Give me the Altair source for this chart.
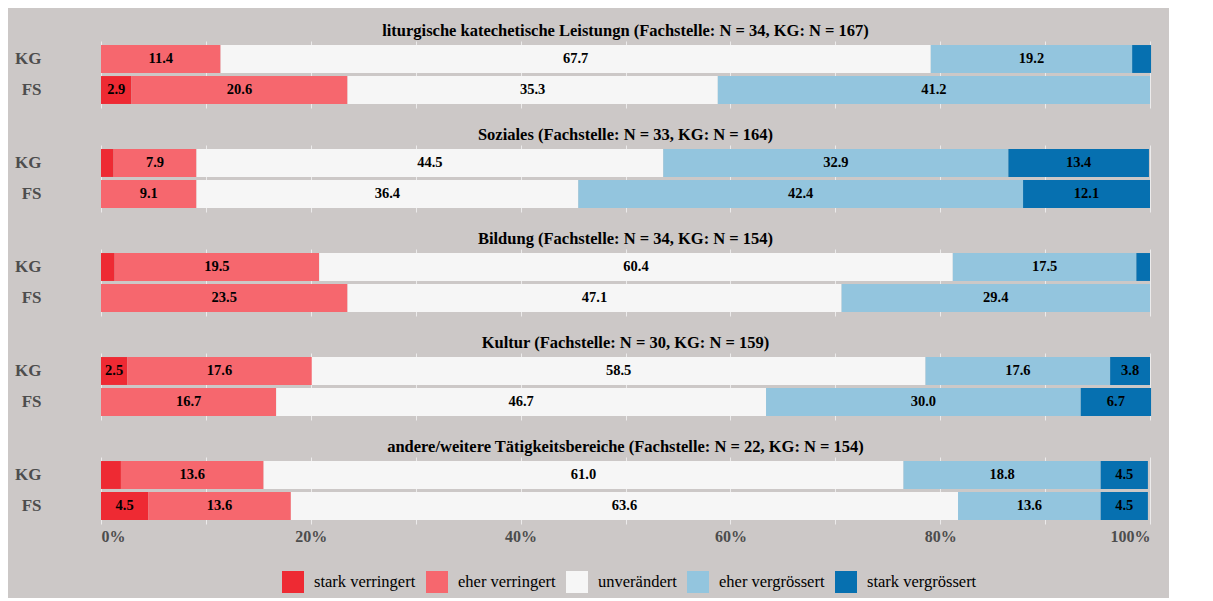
import altair as alt
import pandas as pd

areas = [
    "liturgische katechetische Leistungn (Fachstelle: N = 34, KG: N = 167)",
    "Soziales (Fachstelle: N = 33, KG: N = 164)",
    "Bildung (Fachstelle: N = 34, KG: N = 154)",
    "Kultur (Fachstelle: N = 30, KG: N = 159)",
    "andere/weitere Tätigkeitsbereiche (Fachstelle: N = 22, KG: N = 154)",
]
categories = ["stark verringert", "eher verringert", "unverändert",
              "eher vergrössert", "stark vergrössert"]
colors = ["#ee2a33", "#f6676e", "#f6f6f6", "#93c5de", "#0670b0"]
units = ["KG", "FS"]

kg_values = [
    [0.0, 11.4, 67.7, 19.2, 1.8],
    [1.2, 7.9, 44.5, 32.9, 13.4],
    [1.3, 19.5, 60.4, 17.5, 1.3],
    [2.5, 17.6, 58.5, 17.6, 3.8],
    [1.9, 13.6, 61.0, 18.8, 4.5],
]
fs_values = [
    [2.9, 20.6, 35.3, 41.2, 0.0],
    [0.0, 9.1, 36.4, 42.4, 12.1],
    [0.0, 23.5, 47.1, 29.4, 0.0],
    [0.0, 16.7, 46.7, 30.0, 6.7],
    [4.5, 13.6, 63.6, 13.6, 4.5],
]
x_ticks = [0, 10, 20, 30, 40, 50, 60, 70, 80, 90, 100]

rows = []
for a, kv, fv in zip(areas, kg_values, fs_values):
    for unit, vals in (("KG", kv), ("FS", fv)):
        for i, (c, v) in enumerate(zip(categories, vals)):
            rows.append({"area": a, "unit": unit, "cat": c, "ord": i, "value": v})
df = pd.DataFrame(rows)

SERIF = "Liberation Serif"
GREY = "#4d4d4d"

base = alt.Chart().transform_stack(
    stack="value", groupby=["area", "unit"], as_=["x0", "x1"],
    sort=[alt.SortField("ord", order="ascending")]
).transform_calculate(mid="(datum.x0 + datum.x1) / 2")

y_enc = alt.Y("unit:N", sort=units, title=None,
              scale=alt.Scale(paddingInner=0.1, paddingOuter=0.13),
              axis=alt.Axis(labelFont=SERIF, labelFontWeight="bold", labelFontSize=17,
                            labelColor=GREY, ticks=False, domain=False, labelPadding=60))
x_scale = alt.Scale(domain=[0, 100], nice=False)
x_axis = alt.Axis(values=x_ticks, labelExpr="datum.value % 20 == 0 ? datum.value + '%' : ''",
                  labelFont=SERIF, labelFontWeight="bold", labelFontSize=16, labelColor=GREY,
                  ticks=False, domain=False, grid=True, gridColor="#ecebeb", gridWidth=1,
                  labelPadding=4)

bars = base.mark_bar(strokeWidth=0).encode(
    x=alt.X("x0:Q", scale=x_scale, axis=x_axis, title=None),
    x2="x1:Q",
    y=y_enc,
    color=alt.Color("cat:N", sort=categories,
                    scale=alt.Scale(domain=categories, range=colors),
                    legend=alt.Legend(orient="none", direction="horizontal", title=None,
                                      legendX=181, legendY=530,
                                      symbolType="square", symbolSize=484, symbolStrokeWidth=0,
                                      labelFont=SERIF, labelFontSize=16.5, labelColor="black",
                                      columnPadding=10, labelOffset=10)),
    order=alt.Order("ord:Q"),
)

text = base.transform_filter("datum.value >= 2.5").mark_text(
    font=SERIF, fontWeight="bold", fontSize=14.5, color="black"
).encode(
    x=alt.X("mid:Q", scale=x_scale),
    y=alt.Y("unit:N", sort=units),
    text=alt.Text("value:Q", format=".1f"),
)

chart = alt.layer(bars, text, data=df).properties(width=1049, height=67).facet(
    facet=alt.Facet("area:N", sort=areas, title=None,
                    header=alt.Header(labelFont=SERIF, labelFontWeight="bold", labelFontSize=16.5,
                                      labelColor="black", labelPadding=2, labelAnchor="middle")),
    columns=1,
    spacing=18,
).configure(
    background="#ccc8c7",
    padding={"left": 6, "top": 14, "right": 17, "bottom": 5},
).configure_view(stroke=None)

chart.save("out.html", embed_options={"renderer": "svg", "actions": False})
